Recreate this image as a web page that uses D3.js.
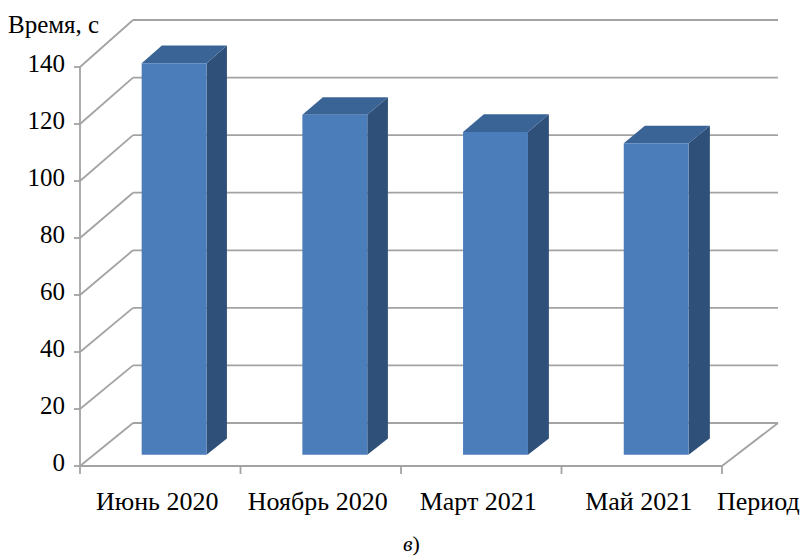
<!DOCTYPE html>
<html>
<head>
<meta charset="utf-8">
<script src="https://cdn.jsdelivr.net/npm/d3@7"></script>
<style>
  html, body { margin: 0; padding: 0; background: #fff; }
  svg { display: block; }
</style>
</head>
<body>
<svg id="chart" width="809" height="556"></svg>
<script>
// Data
const categories = ["Июнь 2020", "Ноябрь 2020", "Март 2021", "Май 2021"];
const values = [137, 119, 113, 109];
const yTicks = [0, 20, 40, 60, 80, 100, 120, 140];
const yTitle = "Время, с";
const xTitle = "Период";
const caption = "в";

const FONT = "Times New Roman";

const svg = d3.select("#chart");

// Oblique 3D frame: front plane and back wall
const yFront = d3.scaleLinear().domain([0, 140]).range([466, 67]);
const yBack = d3.scaleLinear().domain([0, 140]).range([423, 20]);
const xFront = d3.scaleBand().domain(categories).range([80, 722]).paddingInner(0).paddingOuter(0);
const xBack = d3.scaleBand().domain(categories).range([133, 778]).paddingInner(0).paddingOuter(0);

// position along category axis in band units (0..n), value, depth (0 front .. 1 back)
const n = categories.length;
function proj(u, v, z) {
  const [fl, fr] = xFront.range();
  const [bl, br] = xBack.range();
  const xl = fl + z * (bl - fl), xr = fr + z * (br - fr);
  const x = xl + (xr - xl) * u / n;
  const yf = yFront(v), yb = yBack(v);
  return [x, yf + z * (yb - yf)];
}

const gridColor = "#a3a3a3";
const grid = svg.append("g").attr("fill", "none").attr("stroke", gridColor).attr("stroke-width", 1.8);

// Back wall gridlines and left wall diagonals
yTicks.forEach(t => {
  const a = proj(0, t, 1), b = proj(n, t, 1), f = proj(0, t, 0);
  grid.append("line").attr("x1", a[0]).attr("y1", a[1]).attr("x2", b[0]).attr("y2", b[1]);
  grid.append("line").attr("x1", f[0]).attr("y1", f[1]).attr("x2", a[0]).attr("y2", a[1]);
});

// Floor outline (right diagonal)
{
  const a = proj(n, 0, 0), b = proj(n, 0, 1);
  grid.append("line").attr("x1", a[0]).attr("y1", a[1]).attr("x2", b[0]).attr("y2", b[1]);
}

// Bars
const zf = 0.26, zb = 0.64, half = 0.202;
const colFront = "#4a7dba", colSide = "#2f5079", colTop = "#3a6496";
const bars = svg.append("g");
const pts = arr => arr.map(p => p.join(",")).join(" ");
values.forEach((v, i) => {
  const l = i + 0.5 - half, r = i + 0.5 + half;
  const g = bars.append("g");
  // right side face
  g.append("polygon").attr("fill", colSide)
    .attr("points", pts([proj(r, 0, zf), proj(r, 0, zb), proj(r, v, zb), proj(r, v, zf)]));
  // top face
  g.append("polygon").attr("fill", colTop)
    .attr("points", pts([proj(l, v, zf), proj(r, v, zf), proj(r, v, zb), proj(l, v, zb)]));
  // front face
  g.append("polygon").attr("fill", colFront)
    .attr("points", pts([proj(l, 0, zf), proj(r, 0, zf), proj(r, v, zf), proj(l, v, zf)]));
});

// Front axes
const axes = svg.append("g").attr("stroke", gridColor).attr("stroke-width", 1.8).attr("fill", "none");
axes.append("line").attr("x1", 80).attr("y1", yFront(140)).attr("x2", 80).attr("y2", yFront(0));
axes.append("line").attr("x1", xFront.range()[0]).attr("y1", yFront(0)).attr("x2", xFront.range()[1]).attr("y2", yFront(0));
yTicks.forEach(t => {
  axes.append("line").attr("x1", 74).attr("y1", yFront(t)).attr("x2", 80).attr("y2", yFront(t));
});
const bounds = categories.map(c => xFront(c)).concat([xFront.range()[1]]);
bounds.forEach(x => {
  axes.append("line").attr("x1", x).attr("y1", yFront(0)).attr("x2", x).attr("y2", yFront(0) + 8);
});

// Labels
const labels = svg.append("g");
labels.selectAll("text.ytick").data(yTicks).join("text").attr("class", "ytick")
  .attr("font-family", FONT)
  .attr("x", 65).attr("y", d => yFront(d) + 5)
  .attr("text-anchor", "end").attr("font-size", 25)
  .text(d => d);

labels.selectAll("text.xcat").data(categories).join("text").attr("class", "xcat")
  .attr("font-family", FONT)
  .attr("x", d => xFront(d) + xFront.bandwidth() / 2 - 3).attr("y", 510)
  .attr("text-anchor", "middle").attr("font-size", 26)
  .text(d => d);

labels.append("text").attr("font-family", FONT).attr("x", 717).attr("y", 510).attr("font-size", 26).text(xTitle);
labels.append("text").attr("font-family", FONT).attr("x", 8).attr("y", 33).attr("font-size", 25).text(yTitle);

const cap = labels.append("text").attr("font-family", FONT).attr("x", 403).attr("y", 551).attr("font-size", 22);
cap.append("tspan").attr("font-style", "italic").text(caption);
cap.append("tspan").text(")");
</script>
</body>
</html>
